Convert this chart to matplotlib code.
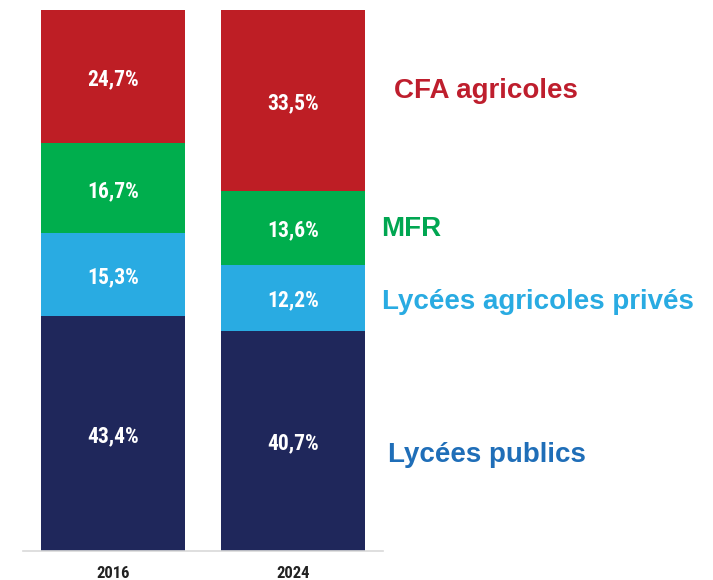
import matplotlib
matplotlib.use("Agg")
import matplotlib.pyplot as plt

years = ["2016", "2024"]
categories = ["Lycées publics", "Lycées agricoles privés", "MFR", "CFA agricoles"]
publics = [43.4, 40.7]
prives = [15.3, 12.2]
mfr = [16.7, 13.6]
cfa = [24.7, 33.5]
series = [publics, prives, mfr, cfa]

bar_colors = ["#1F275B", "#29ABE2", "#00AE4D", "#BE1E25"]
label_colors = ["#1F6EB8", "#29ABE2", "#00A651", "#BE1E2D"]

narrow = ["Roboto Condensed", "Liberation Sans", "DejaVu Sans"]

fig = plt.figure(figsize=(7.13, 5.80), dpi=100)
ax = fig.add_axes([23 / 713, 1 - 551 / 580, 360 / 713, 541 / 580])

x = list(range(len(years)))
bottoms = [0.0] * len(years)
for vals, col in zip(series, bar_colors):
    ax.bar(x, vals, bottom=bottoms, width=0.8, color=col, edgecolor="none")
    for i, v in enumerate(vals):
        ax.annotate(f"{v:.1f}%".replace(".", ","), (x[i], bottoms[i] + v / 2),
                    xytext=(0, -2), textcoords="offset points",
                    ha="center", va="center", color="white", fontsize=15.5,
                    fontweight="bold", family=narrow)
    bottoms = [b + v for b, v in zip(bottoms, vals)]

ax.set_xlim(-0.5, 1.5)
ax.set_ylim(0, 100)
ax.set_xticks(x)
ax.set_xticklabels(years, fontsize=12, fontweight="bold", family=narrow, color="#222222")
ax.tick_params(axis="x", length=0, pad=10.5)
ax.set_yticks([])
for s in ["top", "left", "right"]:
    ax.spines[s].set_visible(False)
ax.spines["bottom"].set_color("#D9D9D9")
ax.spines["bottom"].set_linewidth(1.2)

# category labels on the right
label_pos = [(388, 455), (382, 302), (381, 229), (394, 91)]
for name, col, (px, py) in zip(categories, label_colors, label_pos):
    fig.text(px / 713, 1 - py / 580, name, ha="left", va="center", color=col,
             fontsize=20, fontweight="bold", family=["Liberation Sans", "DejaVu Sans"])

fig.savefig("out.png", dpi=100)
